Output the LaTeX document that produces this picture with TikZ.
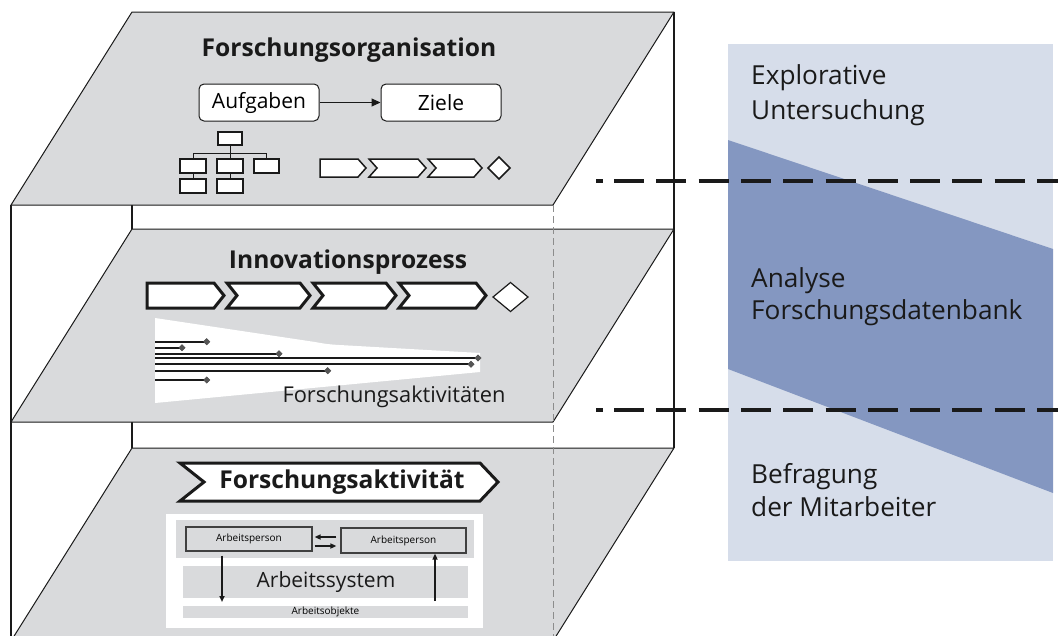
\documentclass[tikz,border=0pt]{standalone}
\usepackage{fontspec}
\setmainfont{Open Sans}
\usetikzlibrary{arrows.meta,shapes.geometric}
\definecolor{plategrey}{HTML}{D9DADC}
\definecolor{panel}{HTML}{D6DDEA}
\definecolor{paneldark}{HTML}{8497C1}
\definecolor{markgrey}{HTML}{555555}
\definecolor{ink}{HTML}{1A1A1A}
\newcommand\pxfont[1]{\fontsize{#1}{#1}\selectfont}
% process step with flat tail: style, left x, top y, body length, height, tip depth
\newcommand\stephead[6]{%
  \draw[#1] (#2,#3) -- ++(#4,0) -- ++(#6,#5/2) -- ++(-#6,#5/2) -- ++(-#4,0) -- cycle;}
% chevron step with notched tail
\newcommand\stepchev[6]{%
  \draw[#1] (#2,#3) -- ++(#4,0) -- ++(#6,#5/2) -- ++(-#6,#5/2) -- ++(-#4,0) -- ++(#6,-#5/2) -- cycle;}
\begin{document}
\begin{tikzpicture}[x=1pt,y=-1pt,
  platefill/.style={fill=plategrey, draw=ink, line width=1pt, line join=round},
  frame/.style={draw=ink, line width=1.6pt},
  hidden/.style={draw=black!45, line width=0.9pt, dash pattern=on 7pt off 4pt},
  sepline/.style={draw=ink, line width=3.5pt, dash pattern=on 30pt off 12.3pt},
  thinstep/.style={draw=ink, fill=white, line width=1.5pt, line join=miter},
  thickstep/.style={draw=ink, fill=white, line width=3pt, line join=miter},
  title/.style={font=\pxfont{24.6}\bfseries, text=ink, inner sep=0pt},
  goalbox/.style={draw=ink, fill=white, rounded corners=5pt, line width=1pt,
    minimum width=120pt, minimum height=37pt, inner sep=0pt, font=\pxfont{21}},
  orgbox/.style={draw=ink, fill=white, line width=1.6pt, inner sep=0pt},
  orgline/.style={draw=ink, line width=1pt},
  actline/.style={draw=ink, line width=2pt},
  endmark/.style={diamond, fill=markgrey, inner sep=0pt, minimum size=7pt},
  personbox/.style={draw=black!75, fill=plategrey, line width=1.2pt, inner sep=0pt,
    font=\pxfont{10}},
  band/.style={fill=plategrey, draw=none},
  flow/.style={draw=ink, line width=1.5pt, -{Triangle[length=6pt,width=5pt]}},
  paneltext/.style={font=\pxfont{26.2}, text=ink, inner sep=0pt, anchor=base west},
]
\useasboundingbox (0,0) rectangle (1058,635);
\clip (0,0) rectangle (1058,635);

% ---------- method panel on the right ----------
\fill[panel] (728,44) rectangle (1053,561);
\fill[paneldark] (728,140) -- (1053,249) -- (1053,493) -- (728,369) -- cycle;
\node[paneltext] (e1) at (751,84) {Explorative};
\node[paneltext] (e2) at (751,119) {Untersuchung};
\node[paneltext] (a1) at (751,287) {Analyse};
\node[paneltext] (a2) at (751,319) {Forschungsdatenbank};
\node[paneltext] (b1) at (751,483) {Befragung};
\node[paneltext] (b2) at (751,516) {der Mitarbeiter};

% ---------- box frame ----------
\draw[frame] (11,205) -- (11,640);
\draw[frame] (132,205) -- (132,448);
\draw[frame] (674,12) -- (674,448);

% ---------- the three layers ----------
\draw[platefill] (132,448) -- (674,448) -- (553,641) -- (11,641) -- cycle;
\draw[platefill] (132,229) -- (674,229) -- (553,422) -- (11,422) -- cycle;
\draw[platefill] (132,12) -- (674,12) -- (553,205) -- (11,205) -- cycle;
\draw[hidden] (553,205) -- (553,640);

% ---------- layer 1: Forschungsorganisation ----------
\node[title] (t1) at (349,50) {Forschungsorganisation};
\node[goalbox] (auf) at (259,102.5) {Aufgaben};
\node[goalbox] (ziel) at (441,102.5) {Ziele};
\draw[line width=1pt, draw=ink, -{Triangle[length=9pt,width=8pt]}] (auf) -- (ziel);

\node[orgbox, minimum width=24pt, minimum height=13pt] (o0) at (230,138.5) {};
\node[orgbox, minimum width=26pt, minimum height=14pt] (o1) at (193,166) {};
\node[orgbox, minimum width=26pt, minimum height=14pt] (o2) at (230,166) {};
\node[orgbox, minimum width=25pt, minimum height=14pt] (o3) at (266.5,166) {};
\node[orgbox, minimum width=26pt, minimum height=14pt] (o4) at (193,186) {};
\node[orgbox, minimum width=26pt, minimum height=14pt] (o5) at (230,186) {};
\coordinate (bus) at (0,153);
\draw[orgline] (o0.south) -- (o2.north);
\draw[orgline] (o1.north) -- (o1.north |- bus) -- (o3.north |- bus) -- (o3.north);
\draw[orgline] (o1.south) -- (o4.north);
\draw[orgline] (o2.south) -- (o5.north);

\stephead{thinstep}{320}{159}{38}{18}{8}
\stepchev{thinstep}{369}{159}{49}{18}{8}
\stepchev{thinstep}{428}{159}{46}{18}{8}
\draw[thinstep] (499,157) -- (510,168) -- (499,179) -- (488,168) -- cycle;

% ---------- layer 2: Innovationsprozess ----------
\node[title] (t2) at (348,262) {Innovationsprozess};
\stephead{thickstep}{147}{283}{67}{25}{10}
\stepchev{thickstep}{227}{283}{73}{25}{10}
\stepchev{thickstep}{313}{283}{73}{25}{10}
\stepchev{thickstep}{399}{283}{77}{25}{10}
\draw[draw=ink, fill=white, line width=1.2pt] (510.5,282.5) -- (528,297) -- (510.5,311.5) -- (493,297) -- cycle;

% funnel of research activities
\fill[white] (155,318) -- (315,342) .. controls (322,343.3) and (327,344.2) .. (336,344.8)
  -- (480,353) -- (480,372) -- (155,403) -- cycle;
\foreach \y/\xe [count=\i] in {341.7/206.7, 347.7/182, 353.7/279, 358/478, 364.3/471, 370.7/327.7, 380/206.7}{
  \coordinate (s\i) at (155,\y);
  \node[endmark] (m\i) at (\xe,\y) {};
  \draw[actline] (s\i) -- (m\i.center);
  \node[endmark] at (m\i) {};
}
\node[font=\pxfont{21.8}, text=ink, inner sep=0pt] (fa) at (394,397) {Forschungsaktivitäten};

% ---------- layer 3: Forschungsaktivität ----------
\draw[thickstep] (180,463) -- (480,463) -- (498,482) -- (480,501) -- (180,501) -- (204,482) -- cycle;
\node[title] (t3) at (342,482) {Forschungsaktivität};

\fill[white] (166,514) rectangle (483,628);
\fill[plategrey] (176,520) rectangle (474,558);
\node[personbox, minimum width=126pt, minimum height=24pt] (p1) at (249,539) {Arbeitsperson};
\node[personbox, minimum width=125pt, minimum height=25pt] (p2) at (403.5,540.5) {Arbeitsperson};
\draw[flow, shorten <=4pt, shorten >=2pt] ([yshift=3.5pt]p2.west) -- ([yshift=3.5pt]p2.west -| p1.east);
\draw[flow, shorten <=2pt, shorten >=4pt] ([yshift=-5.5pt]p2.west -| p1.east) -- ([yshift=-5.5pt]p2.west);

\node[band, minimum width=285pt, minimum height=32pt, inner sep=0pt] (sys) at (325.5,582) {};
\node[font=\pxfont{21}, text=ink, inner sep=0pt] (syst) at (326,582) {Arbeitssystem};
\node[band, minimum width=285pt, minimum height=12pt, inner sep=0pt, font=\pxfont{10}] (obj) at (325.5,612) {Arbeitsobjekte};
\coordinate (dn) at (222,602);
\coordinate (up) at (435,601);
\draw[flow, shorten <=4pt] (p1.south -| dn) -- (dn);
\draw[flow] (up) -- (p2.south -| up);

% ---------- method boundaries ----------
\draw[sepline, dash pattern=] (596,181) -- (603,181);
\draw[sepline] (614,181) -- (1058,181);
\draw[sepline, dash pattern=] (596,410) -- (603,410);
\draw[sepline] (614,410) -- (1058,410);
\end{tikzpicture}
\end{document}
